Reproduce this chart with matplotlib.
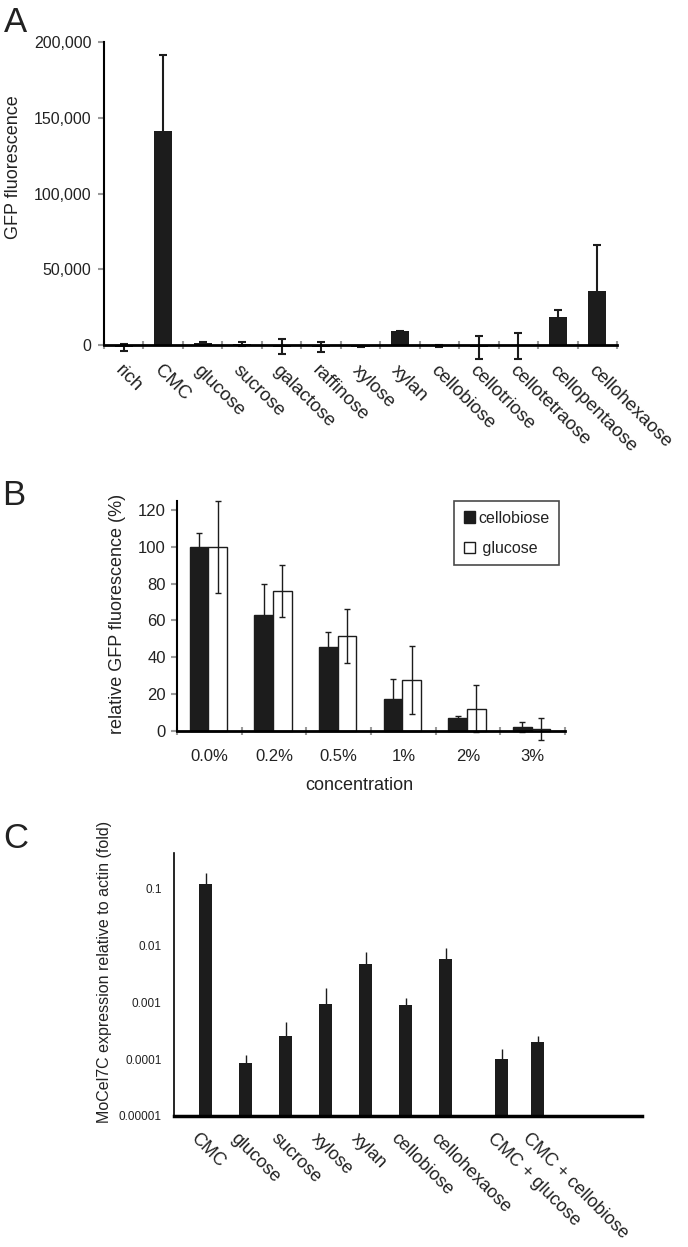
import numpy as np
import matplotlib
matplotlib.use('Agg')
import matplotlib.pyplot as plt
from matplotlib.ticker import FixedLocator, NullLocator, FixedFormatter
from matplotlib.transforms import ScaledTranslation
from matplotlib.patches import Patch

plt.rcParams['font.family'] = ['Liberation Sans', 'DejaVu Sans']

# --- panel A: GFP fluorescence on different carbon sources
a_labels = ['rich', 'CMC', 'glucose', 'sucrose', 'galactose', 'raffinose', 'xylose',
            'xylan', 'cellobiose', 'cellotriose', 'cellotetraose', 'cellopentaose', 'cellohexaose']
a_values = [-1500, 141500, 1200, 800, -1000, -1500, -1000,
            9000, -500, -1500, -650, 18200, 35500]
a_err = [2200, 50000, 800, 1500, 5000, 3300, 300,
         500, 500, 7600, 8500, 4800, 30700]
a_yticks = [0, 50000, 100000, 150000, 200000]
a_yticklabels = ['0', '50,000', '100,000', '150,000', '200,000']

# --- panel B: repression by cellobiose / glucose
b_conc = ['0.0%', '0.2%', '0.5%', '1%', '2%', '3%']
b_cellobiose = [100, 62.8, 45.6, 17.6, 7.0, 2.3]
b_cellobiose_err = [7.5, 16.7, 8.0, 10.4, 1.1, 2.8]
b_glucose = [100, 75.9, 51.7, 27.5, 12.0, 1.2]
b_glucose_err = [25, 14, 14.6, 18.5, 12.8, 6.0]

# --- panel C: MoCel7C expression (log scale)
c_labels = ['CMC', 'glucose', 'sucrose', 'xylose', 'xylan', 'cellobiose',
            'cellohexaose', 'CMC + glucose', 'CMC + cellobiose']
c_pos = [0, 1, 2, 3, 4, 5, 6, 7.4, 8.3]
c_values = [0.123, 8.7e-5, 2.6e-4, 9.5e-4, 4.7e-3, 9.2e-4, 5.8e-3, 1.03e-4, 2.0e-4]
c_upper = [0.192, 1.19e-4, 4.6e-4, 1.8e-3, 7.8e-3, 1.2e-3, 9.0e-3, 1.5e-4, 2.56e-4]
c_yticks = [1e-5, 1e-4, 1e-3, 1e-2, 1e-1]
c_yticklabels = ['0.00001', '0.0001', '0.001', '0.01', '0.1']

W, H = 688, 1247
fig = plt.figure(figsize=(W / 100, H / 100), dpi=100)


def px_axes(l, t, r, b):
    return fig.add_axes([l / W, 1 - b / H, (r - l) / W, (b - t) / H])


bar_col = '#1c1c1c'
tick_gray = '#9a9a9a'
txt_col = '#222222'

# ================= A =================
axA = px_axes(104, 42, 617, 345)
xa = np.arange(len(a_labels))
axA.bar(xa, a_values, width=0.46, color=bar_col, clip_on=False, zorder=2)
axA.errorbar(xa, a_values, yerr=a_err, fmt='none', ecolor=bar_col, elinewidth=1.5,
             capsize=3, capthick=1.5, clip_on=False, zorder=3)
axA.set_xlim(-0.5, len(a_labels) - 0.5)
axA.set_ylim(0, 200000)
for s in ['top', 'right']:
    axA.spines[s].set_visible(False)
axA.spines['left'].set_linewidth(1.5)
axA.spines['bottom'].set_linewidth(2)
axA.spines['bottom'].set_zorder(4)
axA.xaxis.set_major_locator(FixedLocator(np.arange(-0.5, len(a_labels), 1.0)))
axA.xaxis.set_major_formatter(FixedFormatter([''] * (len(a_labels) + 1)))
axA.tick_params(axis='x', which='major', direction='inout', length=6, width=1.5, color=tick_gray)
axA.xaxis.set_minor_locator(FixedLocator(xa))
axA.xaxis.set_minor_formatter(FixedFormatter(a_labels))
axA.tick_params(axis='x', which='minor', length=0, pad=12, labelsize=13.5, labelcolor=txt_col)
for lab in axA.get_xticklabels(minor=True):
    lab.set_rotation(-45)
    lab.set_ha('left')
    lab.set_va('top')
    lab.set_rotation_mode('anchor')
axA.set_yticks(a_yticks)
axA.set_yticklabels(a_yticklabels)
axA.tick_params(axis='y', direction='out', length=4, width=1.5, color=tick_gray,
                labelsize=11.5, labelcolor=txt_col, pad=5)
fig.text(14 / W, 1 - 167 / H, 'GFP fluorescence', rotation=90, ha='center', va='center',
         fontsize=13, color=txt_col)

# ================= B =================
axB = px_axes(177, 501, 565, 731)
xb = np.arange(len(b_conc))
bw = 0.29
axB.bar(xb - 0.16, b_cellobiose, width=bw, color=bar_col, edgecolor=bar_col,
        linewidth=1, clip_on=False, zorder=2, label='cellobiose')
axB.bar(xb + 0.13, b_glucose, width=bw, color='white', edgecolor=bar_col,
        linewidth=1, clip_on=False, zorder=2, label='glucose')
axB.errorbar(xb - 0.16, b_cellobiose, yerr=b_cellobiose_err, fmt='none', ecolor=bar_col,
             elinewidth=1, capsize=2.5, capthick=1, clip_on=False, zorder=3)
axB.errorbar(xb + 0.13, b_glucose, yerr=b_glucose_err, fmt='none', ecolor=bar_col,
             elinewidth=1, capsize=2.5, capthick=1, clip_on=False, zorder=3)
axB.set_xlim(-0.5, len(b_conc) - 0.5)
axB.set_ylim(0, 124.8)
for s in ['top', 'right']:
    axB.spines[s].set_visible(False)
axB.spines['left'].set_linewidth(1.5)
axB.spines['bottom'].set_linewidth(2)
axB.spines['bottom'].set_zorder(4)
axB.xaxis.set_major_locator(FixedLocator(np.arange(-0.5, len(b_conc), 1.0)))
axB.xaxis.set_major_formatter(FixedFormatter([''] * (len(b_conc) + 1)))
axB.tick_params(axis='x', which='major', direction='inout', length=6, width=1.5, color=tick_gray)
axB.xaxis.set_minor_locator(FixedLocator(xb))
axB.xaxis.set_minor_formatter(FixedFormatter(b_conc))
axB.tick_params(axis='x', which='minor', length=0, pad=13, labelsize=12, labelcolor=txt_col)
axB.set_yticks([0, 20, 40, 60, 80, 100, 120])
axB.tick_params(axis='y', direction='out', length=4, width=1.5, color=tick_gray,
                labelsize=12, labelcolor=txt_col, pad=4)
fig.text(117 / W, 1 - 614 / H, 'relative GFP fluorescence (%)', rotation=90,
         ha='center', va='center', fontsize=13, color=txt_col)
fig.text(359 / W, 1 - 786 / H, 'concentration', ha='center', va='center',
         fontsize=13, color=txt_col)
handles = [Patch(facecolor=bar_col, edgecolor=bar_col, label='cellobiose'),
           Patch(facecolor='white', edgecolor=bar_col, label=' glucose')]
leg = axB.legend(handles=handles, loc='upper left', bbox_to_anchor=(0.715, 1.0),
                 frameon=True, fancybox=False, edgecolor=bar_col, fontsize=11.5,
                 handlelength=0.7, handleheight=0.7, handletextpad=0.2,
                 labelspacing=0.95, borderpad=0.6, borderaxespad=0)
leg.get_frame().set_linewidth(1.2)
for t in leg.get_texts():
    t.set_color(txt_col)

# ================= C =================
axC = px_axes(174, 853, 642, 1116)
axC.set_yscale('log')
c_bottom = 1e-5
axC.bar(c_pos, np.array(c_values) - c_bottom, bottom=c_bottom, width=0.34,
        color=bar_col, zorder=2)
c_err_up = np.array(c_upper) - np.array(c_values)
axC.errorbar(c_pos, c_values, yerr=[np.zeros(len(c_values)), c_err_up], fmt='none',
             ecolor=bar_col, elinewidth=1, capsize=0, zorder=1)
axC.set_xlim(-0.79, 10.91)
axC.set_ylim(1e-5, 0.43)
for s in ['top', 'right']:
    axC.spines[s].set_visible(False)
axC.spines['left'].set_linewidth(1.2)
axC.spines['bottom'].set_linewidth(2.5)
axC.spines['bottom'].set_zorder(4)
axC.yaxis.set_major_locator(FixedLocator(c_yticks))
axC.yaxis.set_major_formatter(FixedFormatter(c_yticklabels))
axC.yaxis.set_minor_locator(NullLocator())
axC.tick_params(axis='y', length=0, pad=9, labelsize=8.5, labelcolor=txt_col)
axC.set_xticks(c_pos)
axC.set_xticklabels(c_labels)
axC.tick_params(axis='x', length=0, pad=10, labelsize=13, labelcolor=txt_col)
shift = ScaledTranslation(-6 / 100, 0, fig.dpi_scale_trans)
for lab in axC.get_xticklabels():
    lab.set_rotation(-45)
    lab.set_ha('left')
    lab.set_va('top')
    lab.set_rotation_mode('anchor')
    lab.set_transform(lab.get_transform() + shift)
fig.text(105 / W, 1 - 972 / H, 'MoCel7C expression relative to actin (fold)', rotation=90,
         ha='center', va='center', fontsize=11.5, color=txt_col)

# panel letters
fig.text(4 / W, 1 - 32 / H, 'A', fontsize=25, va='baseline', ha='left', color=txt_col)
fig.text(2 / W, 1 - 505 / H, 'B', fontsize=25, va='baseline', ha='left', color=txt_col)
fig.text(3 / W, 1 - 848 / H, 'C', fontsize=25, va='baseline', ha='left', color=txt_col)

fig.savefig('out.png', dpi=100, facecolor='white')
